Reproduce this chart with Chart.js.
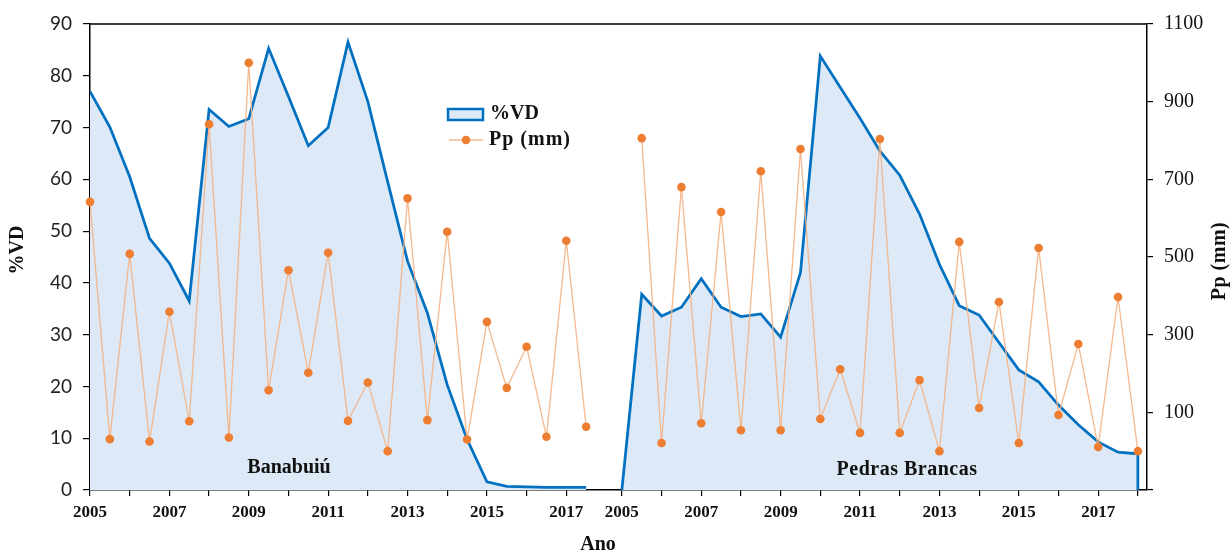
<!DOCTYPE html>
<html lang="pt">
<head>
<meta charset="utf-8">
<script src="https://cdn.jsdelivr.net/npm/chart.js@4.4.1/dist/chart.umd.min.js"></script>
<style>
  html, body { margin: 0; padding: 0; background: #fff; }
  #wrap { width: 1232px; height: 552px; }
</style>
</head>
<body>
<div id="wrap"><canvas id="grafico"></canvas></div>
<script>
// Dados (duas amostras por ano)
const anosBanabuiu = [2005, 2005.5, 2006, 2006.5, 2007, 2007.5, 2008, 2008.5, 2009, 2009.5, 2010, 2010.5, 2011, 2011.5,
  2012, 2012.5, 2013, 2013.5, 2014, 2014.5, 2015, 2015.5, 2016, 2016.5, 2017, 2017.5];
const vdBanabuiu = [77, 70.1, 60.5, 48.6, 43.8, 36.5, 73.5, 70.2, 71.7, 85.3, 76, 66.5, 70, 86.5,
  75, 59.5, 44.2, 34.2, 20.3, 9.8, 1.6, 0.7, 0.6, 0.5, 0.5, 0.5];
const ppBanabuiu = [642, 31, 508, 25, 359, 77, 842, 35, 1000, 157, 466, 202, 511, 78,
  177, 0, 651, 80, 565, 30, 333, 163, 269, 37, 542, 63];

const anosPedras = [2005, 2005.5, 2006, 2006.5, 2007, 2007.5, 2008, 2008.5, 2009, 2009.5, 2010, 2010.5, 2011, 2011.5,
  2012, 2012.5, 2013, 2013.5, 2014, 2014.5, 2015, 2015.5, 2016, 2016.5, 2017, 2017.5, 2018];
const vdPedras = [0, 37.8, 33.6, 35.3, 40.8, 35.3, 33.5, 34, 29.5, 42, 83.8, 77.8, 71.8, 65.5,
  60.8, 53.3, 43.6, 35.6, 33.8, 28.5, 23.2, 20.9, 16.4, 12.6, 9.3, 7.3, 7.0];
const ppPedras = [null, 806, 21, 680, 72, 616, 54, 721, 54, 778, 83, 211, 47, 804,
  47, 183, 0, 539, 111, 384, 21, 523, 93, 276, 11, 397, 0];

// marcas do eixo x (uma por ano), rótulo só nos anos ímpares
const ticksBanabuiu = [2005, 2006, 2007, 2008, 2009, 2010, 2011, 2012, 2013, 2014, 2015, 2016, 2017];
const ticksPedras = [2005, 2006, 2007, 2008, 2009, 2010, 2011, 2012, 2013, 2014, 2015, 2016, 2017, 2018];

// os dois reservatórios dividem o mesmo eixo, lado a lado
const inicioBanabuiu = 0;
const inicioPedras = 13.4;
const fimEixo = 26.63;

const AZUL = '#0070C0';
const AZUL_CLARO = '#DDE9F6';
const LARANJA = '#ED7D31';
const LARANJA_LINHA = 'rgba(244, 177, 131, 0.9)';
const SERIFA = '"Liberation Serif", "Times New Roman", serif';

function pontos(anos, valores, inicio) {
  return anos.map((a, i) => ({ x: inicio + (a - 2005), y: valores[i] }));
}

const posTicks = ticksBanabuiu.map(a => inicioBanabuiu + a - 2005)
  .concat(ticksPedras.map(a => inicioPedras + a - 2005));
const rotulosTicks = ticksBanabuiu.concat(ticksPedras).map(a => a % 2 === 1 ? String(a) : '');

// fecha a área de Pedras Brancas até o zero, como no original
const areaPedras = pontos(anosPedras, vdPedras, inicioPedras);
areaPedras.push({ x: areaPedras[areaPedras.length - 1].x, y: 0 });

function serieVD(data) {
  return {
    type: 'line', data, yAxisID: 'y', order: 2,
    borderColor: AZUL, borderWidth: 2.75, backgroundColor: AZUL_CLARO,
    fill: 'origin', pointRadius: 0, tension: 0
  };
}
function seriePP(data) {
  return {
    type: 'line', data, yAxisID: 'y1', order: 1, clip: false,
    borderColor: LARANJA_LINHA, borderWidth: 1.3, spanGaps: false,
    pointRadius: 4.3, pointBackgroundColor: LARANJA, pointBorderWidth: 0, tension: 0
  };
}

const textos = {
  id: 'textos',
  afterDraw(chart) {
    const { ctx, chartArea: a } = chart;
    ctx.save();
    // borda superior
    ctx.strokeStyle = '#000';
    ctx.lineWidth = 1.5;
    ctx.beginPath();
    ctx.moveTo(a.left, a.top);
    ctx.lineTo(a.right, a.top);
    ctx.stroke();

    ctx.fillStyle = '#111';
    ctx.textBaseline = 'middle';
    ctx.textAlign = 'center';
    ctx.font = 'bold 20px ' + SERIFA;
    ctx.fillText('Ano', 598, 545);
    ctx.fillText('Banabuiú', 289, 468);
    ctx.letterSpacing = '0.5px';
    ctx.fillText('Pedras Brancas', 907, 470);
    ctx.letterSpacing = '0px';

    ctx.save();
    ctx.translate(18, 250);
    ctx.rotate(-Math.PI / 2);
    ctx.fillText('%VD', 0, 0);
    ctx.restore();
    ctx.save();
    ctx.translate(1220, 261);
    ctx.rotate(-Math.PI / 2);
    ctx.letterSpacing = '0.5px';
    ctx.fillText('Pp (mm)', 0, 0);
    ctx.restore();

    // legenda
    ctx.fillStyle = AZUL_CLARO;
    ctx.fillRect(448, 109, 35, 11);
    ctx.strokeStyle = AZUL;
    ctx.lineWidth = 2.5;
    ctx.strokeRect(448, 109, 35, 11);
    ctx.strokeStyle = LARANJA_LINHA;
    ctx.lineWidth = 1.3;
    ctx.beginPath();
    ctx.moveTo(449, 140);
    ctx.lineTo(483, 140);
    ctx.stroke();
    ctx.fillStyle = LARANJA;
    ctx.beginPath();
    ctx.arc(466, 140, 4.3, 0, Math.PI * 2);
    ctx.fill();

    ctx.fillStyle = '#111';
    ctx.textAlign = 'left';
    ctx.fillText('%VD', 490, 114);
    ctx.letterSpacing = '1px';
    ctx.fillText('Pp (mm)', 489, 140);
    ctx.restore();
  }
};

new Chart(document.getElementById('grafico'), {
  data: {
    datasets: [
      serieVD(pontos(anosBanabuiu, vdBanabuiu, inicioBanabuiu)),
      serieVD(areaPedras),
      seriePP(pontos(anosBanabuiu, ppBanabuiu, inicioBanabuiu)),
      seriePP(pontos(anosPedras, ppPedras, inicioPedras))
    ]
  },
  options: {
    responsive: true,
    maintainAspectRatio: false,
    animation: false,
    layout: { padding: { top: 24, left: 0, right: 0, bottom: 0 } },
    plugins: { legend: { display: false }, tooltip: { enabled: false } },
    scales: {
      x: {
        type: 'linear', min: 0, max: fimEixo,
        afterBuildTicks: s => { s.ticks = posTicks.map(v => ({ value: v })); },
        afterFit: s => { s.height = 62; },
        ticks: {
          autoSkip: false, maxRotation: 0, padding: 6,
          callback: (v, i) => rotulosTicks[i],
          font: { family: SERIFA, size: 17, weight: 'bold' }, color: '#111'
        },
        grid: { drawOnChartArea: false, drawTicks: true, tickLength: 6, color: '#000', lineWidth: 1.2 },
        border: { display: true, color: '#000', width: 1.5 }
      },
      y: {
        position: 'left', min: 0, max: 90,
        afterFit: s => { s.width = 90; },
        ticks: { stepSize: 10, padding: 11, font: { family: 'Lato', size: 19 }, color: '#222' },
        grid: { drawOnChartArea: false, drawTicks: true, tickLength: 7, color: '#000', lineWidth: 1.2 },
        border: { display: true, color: '#000', width: 1.5 }
      },
      y1: {
        position: 'right', min: -100, max: 1100,
        afterFit: s => { s.width = 85; },
        ticks: {
          stepSize: 200, padding: 11,
          callback: v => v < 0 ? '' : String(v),
          font: { family: SERIFA, size: 20 }, color: '#111'
        },
        grid: { drawOnChartArea: false, drawTicks: true, tickLength: 6, color: '#000', lineWidth: 1.2 },
        border: { display: true, color: '#000', width: 1.5 }
      }
    }
  },
  plugins: [textos]
});
</script>
</body>
</html>
